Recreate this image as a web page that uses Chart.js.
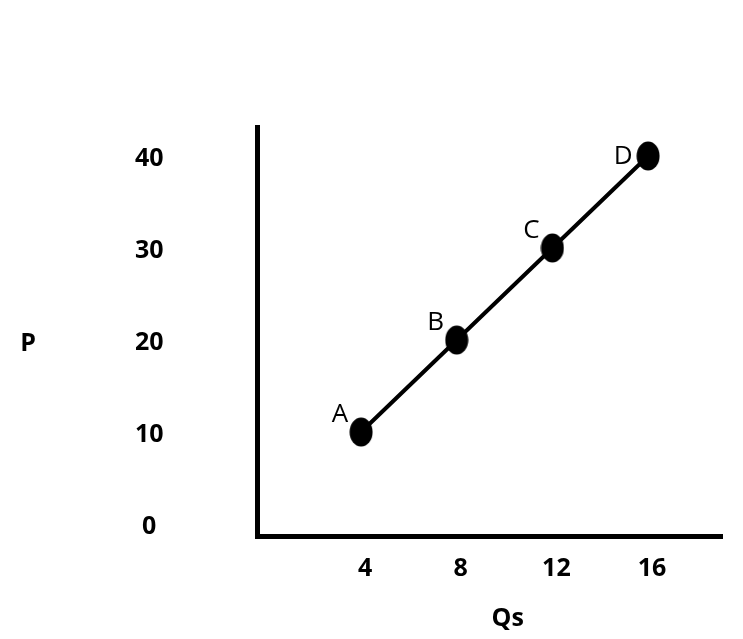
<!DOCTYPE html>
<html>
<head>
<meta charset="utf-8">
<script src="https://cdn.jsdelivr.net/npm/chart.js@4.4.1/dist/chart.umd.min.js"></script>
<style>
  html, body { margin: 0; padding: 0; background: #ffffff; }
  #wrap { width: 743px; height: 639px; }
</style>
</head>
<body>
<div id="wrap"><canvas id="c" width="743" height="639"></canvas></div>
<script>
// ---- data ----
const quantities = [4, 8, 12, 16];
const prices = [10, 20, 30, 40];
const pointNames = ['A', 'B', 'C', 'D'];
const xTicks = [4, 8, 12, 16];
const yTicks = [0, 10, 20, 30, 40];
const xTitle = 'Qs';
const yTitle = 'P';

// label placement style (not data)
const nameAnchors = ['nw', 'nw', 'nw', 'w'];

const FONT = '"Open Sans", "DejaVu Sans", sans-serif';

// elliptical marker
function makeDot(w, h) {
  const cv = document.createElement('canvas');
  cv.width = w; cv.height = h;
  const g = cv.getContext('2d');
  g.fillStyle = '#000';
  g.beginPath();
  g.ellipse(w / 2, h / 2, w / 2 - 0.5, h / 2 - 0.5, 0, 0, Math.PI * 2);
  g.fill();
  return cv;
}
const dot = makeDot(24, 30);

const labelPlugin = {
  id: 'pointNames',
  afterDatasetsDraw(chart) {
    const ctx = chart.ctx;
    const meta = chart.getDatasetMeta(0);
    ctx.save();
    ctx.fillStyle = '#000';
    ctx.font = '400 26px ' + FONT;
    ctx.textAlign = 'center';
    ctx.textBaseline = 'middle';
    meta.data.forEach((el, i) => {
      let dx = -21, dy = -17;
      if (nameAnchors[i] === 'w') { dx = -25; dy = 1; }
      ctx.fillText(pointNames[i], el.x + dx, el.y + dy);
    });
    ctx.restore();
  }
};

const titlePlugin = {
  id: 'axisTitles',
  afterDraw(chart) {
    const ctx = chart.ctx;
    const ys = chart.scales.y;
    ctx.save();
    ctx.fillStyle = '#000';
    ctx.font = '700 25px ' + FONT;
    ctx.textAlign = 'center';
    ctx.textBaseline = 'middle';
    ctx.fillText(yTitle, 28, ys.getPixelForValue(20) + 4);
    ctx.fillText(xTitle, (chart.chartArea.left + chart.chartArea.right) / 2 + 18, 619);
    ctx.restore();
  }
};

new Chart(document.getElementById('c'), {
  type: 'scatter',
  data: {
    datasets: [{
      data: quantities.map((q, i) => ({ x: q, y: prices[i] })),
      showLine: true,
      borderColor: '#000',
      borderWidth: 4,
      backgroundColor: '#000',
      pointStyle: dot,
      tension: 0,
      clip: false
    }]
  },
  options: {
    responsive: false,
    animation: false,
    events: [],
    layout: { padding: { top: 127, right: 21, bottom: 0, left: 0 } },
    plugins: { legend: { display: false }, tooltip: { enabled: false } },
    scales: {
      x: {
        type: 'linear',
        min: -0.33,
        max: 19.09,
        afterBuildTicks(s) { s.ticks = xTicks.map(v => ({ value: v })); },
        afterFit(s) { s.height = 103; s.paddingLeft = 0; s.paddingRight = 0; },
        grid: { display: false, drawTicks: false },
        border: { display: true, color: '#000', width: 5 },
        ticks: {
          color: '#000',
          font: { family: FONT, size: 25, weight: '700' },
          padding: 18,
          labelOffset: 4,
          maxRotation: 0,
          autoSkip: false
        }
      },
      y: {
        type: 'linear',
        min: -1.3,
        max: 43.15,
        afterBuildTicks(s) { s.ticks = yTicks.map(v => ({ value: v })); },
        afterFit(s) { s.width = 257.5; s.paddingTop = 0; s.paddingBottom = 0; },
        grid: { display: false, drawTicks: false },
        border: { display: true, color: '#000', width: 5 },
        ticks: {
          color: '#000',
          font: { family: FONT, size: 25, weight: '700' },
          padding: 94,
          crossAlign: 'center',
          labelOffset: 3,
          autoSkip: false
        }
      }
    }
  },
  plugins: [labelPlugin, titlePlugin]
});
</script>
</body>
</html>
